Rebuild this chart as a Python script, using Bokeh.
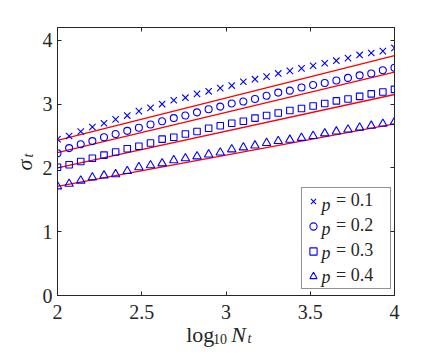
import numpy as np
from bokeh.plotting import figure
from bokeh.layouts import row, column
from bokeh.models import Range1d, LinearAxis, FixedTicker, Label, Legend, LegendItem
from bokeh.core.properties import value
from bokeh.embed import file_html
from bokeh.resources import INLINE

# ---------------- data ----------------
log_n = [2.000, 2.069, 2.138, 2.207, 2.276, 2.345, 2.414, 2.483, 2.552, 2.621,
         2.690, 2.759, 2.828, 2.897, 2.966, 3.034, 3.103, 3.172, 3.241, 3.310,
         3.379, 3.448, 3.517, 3.586, 3.655, 3.724, 3.793, 3.862, 3.931, 4.000]

sigma_p01 = [2.45, 2.50, 2.57, 2.64, 2.70, 2.76, 2.82, 2.89, 2.94, 3.00,
             3.06, 3.10, 3.16, 3.20, 3.25, 3.29, 3.35, 3.39, 3.43, 3.48,
             3.52, 3.56, 3.60, 3.64, 3.68, 3.72, 3.77, 3.80, 3.83, 3.88]
sigma_p02 = [2.23, 2.31, 2.37, 2.42, 2.48, 2.53, 2.58, 2.63, 2.68, 2.73,
             2.78, 2.82, 2.87, 2.92, 2.96, 3.01, 3.04, 3.08, 3.13, 3.18,
             3.21, 3.26, 3.30, 3.33, 3.37, 3.41, 3.45, 3.48, 3.53, 3.57]
sigma_p03 = [2.01, 2.05, 2.10, 2.15, 2.20, 2.25, 2.30, 2.34, 2.39, 2.45,
             2.48, 2.53, 2.57, 2.62, 2.66, 2.70, 2.73, 2.78, 2.82, 2.86,
             2.90, 2.93, 2.97, 3.01, 3.05, 3.08, 3.12, 3.16, 3.19, 3.23]
sigma_p04 = [1.71, 1.75, 1.80, 1.85, 1.88, 1.90, 1.95, 2.01, 2.04, 2.07,
             2.12, 2.15, 2.18, 2.21, 2.24, 2.29, 2.32, 2.35, 2.39, 2.42,
             2.44, 2.47, 2.50, 2.54, 2.57, 2.60, 2.63, 2.66, 2.69, 2.72]

p_values = ["0.1", "0.2", "0.3", "0.4"]
fit_at_2 = [2.43, 2.24, 2.00, 1.71]
fit_at_4 = [3.76, 3.50, 3.15, 2.69]

x_ticks = [2, 2.5, 3, 3.5, 4]
x_tick_labels = ["2", "2.5", "3", "3.5", "4"]
y_ticks = [0, 1, 2, 3, 4]
y_tick_labels = ["0", "1", "2", "3", "4"]

# ---------------- style ----------------
FONT = "Liberation Serif"
AX = "#262626"
BLUE = "#0000ff"
RED = "#ff0000"

YLAB_W = 38
MAIN_W, MAIN_H = 390, 322
XLAB_H = 28

p = figure(width=MAIN_W, height=MAIN_H, output_backend="svg", toolbar_location=None,
           x_range=Range1d(2, 4), y_range=Range1d(0, 4.2),
           min_border_left=19, min_border_right=34, min_border_top=27, min_border_bottom=27)
p.xgrid.visible = False
p.ygrid.visible = False
p.outline_line_color = AX
p.outline_line_width = 1
p.background_fill_color = "white"
p.border_fill_color = "white"


def style_axis(ax, ticks, labels, show_labels=True, standoff=6):
    ax.ticker = FixedTicker(ticks=ticks)
    ax.major_label_overrides = {t: l for t, l in zip(ticks, labels)}
    ax.axis_line_color = AX
    ax.axis_line_width = 1
    ax.major_tick_line_color = AX
    ax.major_tick_line_width = 1
    ax.major_tick_in = 4
    ax.major_tick_out = 0
    ax.minor_tick_line_color = None
    ax.major_label_text_font = FONT
    ax.major_label_text_font_size = "20px"
    ax.major_label_standoff = standoff
    ax.major_label_text_color = AX if show_labels else None


style_axis(p.xaxis[0], x_ticks, x_tick_labels, standoff=9)
style_axis(p.yaxis[0], y_ticks, y_tick_labels, standoff=5)

top_axis = LinearAxis()
style_axis(top_axis, x_ticks, x_tick_labels, show_labels=False, standoff=0)
p.add_layout(top_axis, "above")
right_axis = LinearAxis()
style_axis(right_axis, y_ticks, y_tick_labels, show_labels=False, standoff=0)
p.add_layout(right_axis, "right")

# ---------------- glyphs ----------------
series = [sigma_p01, sigma_p02, sigma_p03, sigma_p04]
markers = ["x", "circle", "square", "triangle"]
sizes = [9, 7, 6.5, 8.5]

x_ends = [log_n[0], log_n[-1]]
for a, b in zip(fit_at_2, fit_at_4):
    p.line(x_ends, [a, b], line_color=RED, line_width=1.4)

renderers = []
for ys, m, s in zip(series, markers, sizes):
    r = p.scatter(log_n, ys, marker=m, size=s, line_color=BLUE, fill_color=None,
                  line_width=1.1)
    renderers.append(r)

# ---------------- legend ----------------
items = [LegendItem(label="= " + pv, renderers=[r]) for pv, r in zip(p_values, renderers)]
legend = Legend(items=items, location=(244, 6),
                label_text_font=FONT, label_text_font_size="18px", label_text_color=AX,
                glyph_width=18, glyph_height=20, label_height=20, label_width=52,
                label_standoff=14, spacing=4, padding=2, margin=0,
                border_line_color=AX, border_line_width=1,
                background_fill_color="white", background_fill_alpha=0)
p.add_layout(legend)

row_y = [90.7, 66.7, 42.7, 18.7]
for yy in row_y:
    p.add_layout(Label(x=264, y=yy, x_units="screen", y_units="screen", text="p",
                       text_font=FONT, text_font_style="italic", text_font_size="18px",
                       text_color=AX, text_baseline="middle", text_align="left"))

# ---------------- axis titles (composed text in side figures) ----------------
def text_fig(w, h):
    f = figure(width=w, height=h, output_backend="svg", toolbar_location=None,
               x_range=Range1d(0, w), y_range=Range1d(0, h),
               x_axis_location=None, y_axis_location=None, min_border=0,
               outline_line_color=None)
    f.xgrid.visible = False
    f.ygrid.visible = False
    return f


def put(f, x, y, t, size, italic=False, angle=0.0):
    f.text(x=[x], y=[y], text=[t], angle=angle, text_font=value(FONT),
           text_font_size=size, text_font_style="italic" if italic else "normal",
           text_color=AX, text_baseline="alphabetic", text_align="left")


xlab = text_fig(MAIN_W, XLAB_H)
put(xlab, 149, 16, "log", "22px")
put(xlab, 180, 12, "10", "14px")
put(xlab, 201, 16, "N", "22px", italic=True)
put(xlab, 220, 12, "t", "14px", italic=True)

YLAB_H = MAIN_H + XLAB_H
ylab = text_fig(YLAB_W, YLAB_H)
put(ylab, 24, YLAB_H - 170, "σ", "22px", italic=True, angle=np.pi / 2)
put(ylab, 28, YLAB_H - 157, "t", "14px", italic=True, angle=np.pi / 2)

layout = row(ylab, column(p, xlab))

open("out.html", "w").write(file_html(layout, INLINE))
